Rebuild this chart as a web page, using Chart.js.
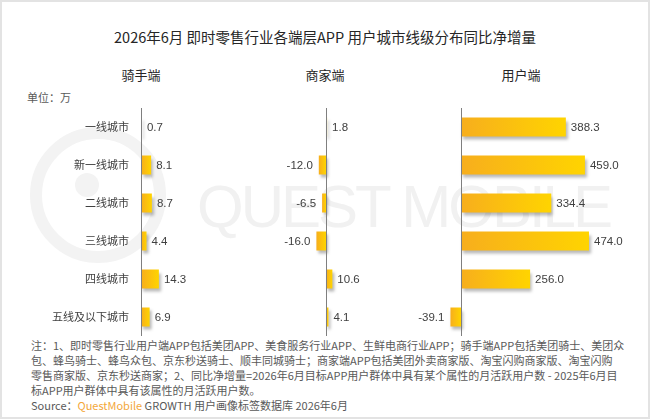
<!DOCTYPE html>
<html lang="zh-CN">
<head>
<meta charset="utf-8">
<title>2026年6月 即时零售行业各端层APP 用户城市线级分布同比净增量</title>
<script src="https://cdn.jsdelivr.net/npm/chart.js@4.4.1/dist/chart.umd.min.js"></script>
<style>
  html, body { margin: 0; padding: 0; background: #fff; }
  #page {
    position: relative; width: 650px; height: 419px; overflow: hidden;
    font-family: 'Noto Sans CJK SC', sans-serif; color: #262626; background: #fff;
  }
  #frame { position: absolute; left: 0; top: 0; width: 650px; height: 419px; box-sizing: border-box;
    border: 2px solid #e3e3e3; pointer-events: none; }
  .abs { position: absolute; white-space: nowrap; }
  #title { left: 0; width: 650px; top: 27px; text-align: center; font-size: 14.5px; line-height: 20px; }
  .panel-title { width: 100px; top: 66px; text-align: center; font-size: 13px; line-height: 18px; }
  #unit { left: 27px; top: 90px; font-size: 11px; line-height: 14px; color: #595959; }
  .note { left: 31px; font-size: 11px; line-height: 15px; color: #595959; }
  .qm { color: #f3a73a; }
  /* watermark */
  #wm-text { left: 197px; top: 177px; font-family: Arial, 'Liberation Sans', sans-serif; font-size: 60px;
    line-height: 60px; letter-spacing: -3px; color: #f1f1f1; }
  .wm-ring { position: absolute; border-radius: 50%; box-sizing: border-box; }
  .chart-box { position: absolute; top: 108px; height: 228px; }
</style>
</head>
<body>
<div id="page">
  <div class="wm-ring" style="left:30px;top:127px;width:136px;height:136px;border:12px solid #f3f3f3;"></div>
  <div class="wm-ring" style="left:75px;top:173px;width:24px;height:24px;background:#f3f3f3;"></div>
  <div id="wm-text" class="abs">QUEST MOBILE</div>

  <div id="title" class="abs">2026年6月 即时零售行业各端层APP 用户城市线级分布同比净增量</div>
  <div id="h0" class="abs panel-title"></div>
  <div id="h1" class="abs panel-title"></div>
  <div id="h2" class="abs panel-title"></div>
  <div id="unit" class="abs">单位：万</div>

  <div class="chart-box" style="left:0px;width:266px;"><canvas id="riderChart"></canvas></div>
  <div class="chart-box" style="left:266px;width:120px;"><canvas id="merchantChart"></canvas></div>
  <div class="chart-box" style="left:407px;width:216px;"><canvas id="userChart"></canvas></div>

  <div class="abs note" style="top:338px;">注：1、即时零售行业用户端APP包括美团APP、美食服务行业APP、生鲜电商行业APP；骑手端APP包括美团骑士、美团众</div>
  <div class="abs note" style="top:353px;">包、蜂鸟骑士、蜂鸟众包、京东秒送骑士、顺丰同城骑士；商家端APP包括美团外卖商家版、淘宝闪购商家版、淘宝闪购</div>
  <div class="abs note" style="top:368px;">零售商家版、京东秒送商家；2、同比净增量=2026年6月目标APP用户群体中具有某个属性的月活跃用户数 - 2025年6月目</div>
  <div class="abs note" style="top:383px;">标APP用户群体中具有该属性的月活跃用户数。</div>
  <div class="abs note" style="top:398px;">Source：<span class="qm">QuestMobile</span> GROWTH 用户画像标签数据库 2026年6月</div>
  <div id="frame"></div>
</div>

<script>
// 数据
const cityTiers = ['一线城市', '新一线城市', '二线城市', '三线城市', '四线城市', '五线及以下城市'];
const riderValues = [0.7, 8.1, 8.7, 4.4, 14.3, 6.9];
const merchantValues = [1.8, -12.0, -6.5, -16.0, 10.6, 4.1];
const userValues = [388.3, 459.0, 334.4, 474.0, 256.0, -39.1];
const panelTitles = ['骑手端', '商家端', '用户端'];

// 面板标题位置
const headerCenters = [141, 325, 521];
panelTitles.forEach((t, i) => {
  const el = document.getElementById('h' + i);
  el.textContent = t;
  el.style.left = (headerCenters[i] - 50) + 'px';
});

const colors = {
  barStart: '#f7ae1d',
  barEnd: '#ffd400',
  axis: '#7f7f7f',
  label: '#404040'
};

// 每根柱子从左到右的渐变
function barFill(context) {
  const chart = context.chart;
  const xs = chart.scales.x;
  if (!chart.chartArea || !xs || context.raw == null) return colors.barStart;
  const a = xs.getPixelForValue(Math.min(0, context.raw));
  const b = xs.getPixelForValue(Math.max(0, context.raw));
  const g = chart.ctx.createLinearGradient(a, 0, Math.max(b, a + 1), 0);
  g.addColorStop(0, colors.barStart);
  g.addColorStop(1, colors.barEnd);
  return g;
}

// 阴影 + 零轴 + 数值标签
const panelDecor = {
  id: 'panelDecor',
  beforeDatasetsDraw(chart) {
    const c = chart.ctx;
    c.save();
    c.shadowColor = 'rgba(0,0,0,0.28)';
    c.shadowBlur = 3;
    c.shadowOffsetX = 2;
    c.shadowOffsetY = 3;
  },
  afterDatasetsDraw(chart) {
    const c = chart.ctx;
    c.restore();
    const area = chart.chartArea;
    const x0 = Math.round(chart.scales.x.getPixelForValue(0)) + 0.5;
    c.save();
    c.strokeStyle = colors.axis;
    c.lineWidth = 1;
    c.beginPath();
    c.moveTo(x0, area.top);
    c.lineTo(x0, area.bottom);
    c.stroke();

    const meta = chart.getDatasetMeta(0);
    const vals = chart.data.datasets[0].data;
    c.font = '11.5px Arial, "Liberation Sans", sans-serif';
    c.fillStyle = colors.label;
    c.textBaseline = 'middle';
    meta.data.forEach((bar, i) => {
      const v = vals[i];
      const neg = v < 0;
      c.textAlign = neg ? 'right' : 'left';
      c.fillText(v.toFixed(1), bar.x + (neg ? -6 : 5), bar.y + 0.5);
    });
    c.restore();
  }
};

function makePanel(id, values, xMin, xMax, showCategories) {
  const el = document.getElementById(id);
  const yAxis = {
    display: showCategories,
    grid: { display: false, drawTicks: false },
    border: { display: false },
    ticks: {
      padding: 12,
      color: colors.label,
      font: { family: 'Noto Sans CJK SC', size: 11 }
    }
  };
  if (showCategories) {
    yAxis.afterFit = function(scale) {
      scale.width = 141;
      scale.paddingTop = 0;
      scale.paddingBottom = 0;
    };
  }
  return new Chart(el.getContext('2d'), {
    type: 'bar',
    data: {
      labels: cityTiers,
      datasets: [{
        data: values,
        backgroundColor: barFill,
        borderWidth: 0,
        barPercentage: 0.5,
        categoryPercentage: 1.0
      }]
    },
    options: {
      indexAxis: 'y',
      responsive: true,
      maintainAspectRatio: false,
      animation: false,
      layout: { padding: 0 },
      plugins: {
        legend: { display: false },
        tooltip: { enabled: false }
      },
      scales: {
        x: { display: false, min: xMin, max: xMax },
        y: yAxis
      }
    },
    plugins: [panelDecor]
  });
}

makePanel('riderChart', riderValues, 0, 100, true);
makePanel('merchantChart', merchantValues, -100, 100, false);
makePanel('userChart', userValues, -200, 600, false);
</script>
</body>
</html>
